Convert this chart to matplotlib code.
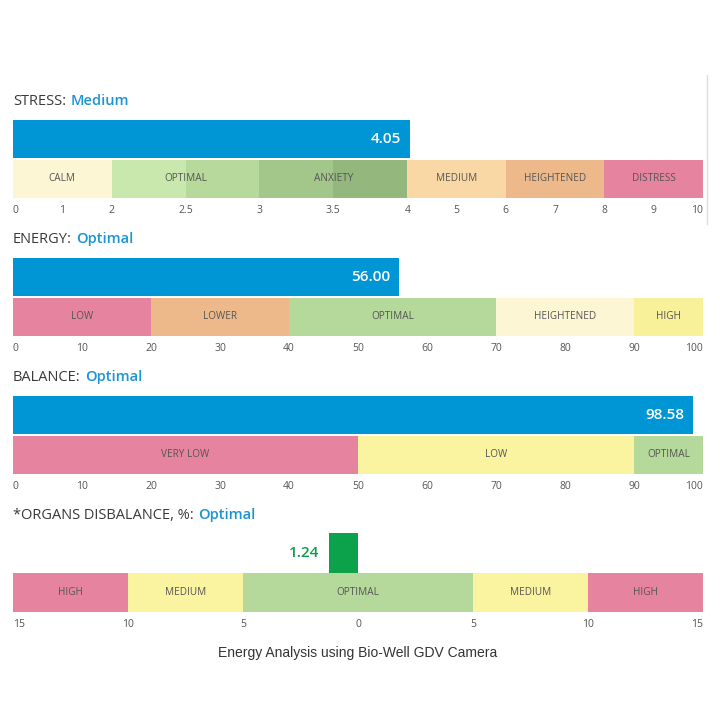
import numpy as np
import matplotlib.pyplot as plt
from matplotlib.transforms import offset_copy
from matplotlib.lines import Line2D

plt.rcParams['font.family'] = ['Open Sans', 'DejaVu Sans']

# ---- data ----
stress_value = 4.05
stress_status = "Medium"
stress_edges = [0, 2, 2.5, 3, 3.5, 4, 6, 8, 10]
stress_names = ["CALM", "OPTIMAL", "ANXIETY", "MEDIUM", "HEIGHTENED", "DISTRESS"]
stress_spans = [(0, 2), (2, 3), (3, 4), (4, 6), (6, 8), (8, 10)]
stress_ticks = [0, 1, 2, 2.5, 3, 3.5, 4, 5, 6, 7, 8, 9, 10]
stress_ticklabels = ["0", "1", "2", "2.5", "3", "3.5", "4", "5", "6", "7", "8", "9", "10"]

energy_value = 56.00
energy_status = "Optimal"
energy_edges = [0, 20, 40, 70, 90, 100]
energy_names = ["LOW", "LOWER", "OPTIMAL", "HEIGHTENED", "HIGH"]
energy_ticks = [0, 10, 20, 30, 40, 50, 60, 70, 80, 90, 100]

balance_value = 98.58
balance_status = "Optimal"
balance_edges = [0, 50, 90, 100]
balance_names = ["VERY LOW", "LOW", "OPTIMAL"]
balance_ticks = [0, 10, 20, 30, 40, 50, 60, 70, 80, 90, 100]

organs_value = 1.24
organs_status = "Optimal"
organs_edges = [-15, -10, -5, 5, 10, 15]
organs_names = ["HIGH", "MEDIUM", "OPTIMAL", "MEDIUM", "HIGH"]
organs_ticks = [-15, -10, -5, 0, 5, 10, 15]
organs_ticklabels = ["15", "10", "5", "0", "5", "10", "15"]

# ---- styles ----
BLUE = "#0096d6"
TITLE_BLUE = "#1b95d3"
PINK = "#e6849f"
ORANGE = "#eeb98a"
PEACH = "#fad8a5"
CREAM = "#fcf6d4"
YELLOW = "#faf3a0"
GREEN = "#b5d99a"
stress_colors = [CREAM, "#c9e8ad", "#b7d99b", "#a3c78b", "#93b77d", PEACH, ORANGE, PINK]
energy_colors = [PINK, ORANGE, GREEN, CREAM, "#f9f09a"]
balance_colors = [PINK, YELLOW, GREEN]
organs_colors = [PINK, YELLOW, GREEN, YELLOW, PINK]

W = H = 720
fig = plt.figure(figsize=(7.2, 7.2), dpi=100)


def px_axes(x0, y0, x1, y1):
    return fig.add_axes([x0 / W, 1 - y1 / H, (x1 - x0) / W, (y1 - y0) / H])


def title(y, label, status):
    t = fig.text(13 / W, 1 - y / H, label, fontsize=10.5, color="#3a3a3a", va="baseline")
    r = fig.canvas.get_renderer()
    bb = t.get_window_extent(r)
    fig.text(bb.x1 / W + 4 / W, 1 - y / H, status, fontsize=10.5, color=TITLE_BLUE,
             va="baseline", fontweight="semibold")


def track(ax, edges, colors, names, spans, ticks, ticklabels):
    for i in range(len(edges) - 1):
        ax.barh(0.5, edges[i + 1] - edges[i], left=edges[i], height=1.0,
                color=colors[i], edgecolor="none")
    for name, (a, b) in zip(names, spans):
        mid = (a + b) / 2
        ax.text(mid, 0.5, name, ha="center", va="center", fontsize=7.2, color="#555555")
    ax.set_ylim(0, 2.03)
    ax.set_xlim(edges[0], edges[-1])
    ax.set_xticks(ticks)
    ax.set_xticklabels(ticklabels)
    ax.tick_params(axis="x", length=0, pad=5, labelsize=7.5, labelcolor="#555555")
    ax.set_yticks([])
    for s in ax.spines.values():
        s.set_visible(False)
    labs = ax.get_xticklabels()
    labs[0].set_ha("left")
    labs[-1].set_ha("right")


def value_bar(ax, value, text):
    ax.barh(1.53, value, left=0, height=1.0, color=BLUE, edgecolor="none")
    tr = offset_copy(ax.transData, fig=fig, x=-9, y=0, units="dots")
    ax.text(value, 1.53, text, transform=tr, ha="right", va="center",
            fontsize=11, color="white", fontweight="semibold")


# STRESS
title(105, "STRESS:", stress_status)
ax1 = px_axes(13, 120, 703, 198)
fwd = lambda x: np.interp(x, [0, 2, 4, 10], [0, 2, 8, 14])
inv = lambda x: np.interp(x, [0, 2, 8, 14], [0, 2, 4, 10])
ax1.set_xscale("function", functions=(fwd, inv))
track(ax1, stress_edges, stress_colors, stress_names, stress_spans,
      stress_ticks, stress_ticklabels)
value_bar(ax1, stress_value, f"{stress_value:.2f}")

# ENERGY
title(243, "ENERGY:", energy_status)
ax2 = px_axes(13, 258, 703, 336)
track(ax2, energy_edges, energy_colors, energy_names,
      list(zip(energy_edges[:-1], energy_edges[1:])), energy_ticks,
      [str(t) for t in energy_ticks])
value_bar(ax2, energy_value, f"{energy_value:.2f}")

# BALANCE
title(381, "BALANCE:", balance_status)
ax3 = px_axes(13, 396, 703, 474)
track(ax3, balance_edges, balance_colors, balance_names,
      list(zip(balance_edges[:-1], balance_edges[1:])), balance_ticks,
      [str(t) for t in balance_ticks])
value_bar(ax3, balance_value, f"{balance_value:.2f}")

# ORGANS DISBALANCE
title(519, "*ORGANS DISBALANCE, %:", organs_status)
ax4 = px_axes(13, 533, 703, 612)
track(ax4, organs_edges, organs_colors, organs_names,
      list(zip(organs_edges[:-1], organs_edges[1:])), organs_ticks, organs_ticklabels)
ax4.set_ylim(0, 2.0)
ax4.barh(1.5, -organs_value, left=0, height=1.0, color="#0ca24b", edgecolor="none")
tr = offset_copy(ax4.transData, fig=fig, x=-10, y=0, units="dots")
ax4.text(-organs_value, 1.5, f"{organs_value:.2f}", transform=tr, ha="right",
         va="center", fontsize=11, color="#129b4b", fontweight="semibold")

fig.text(358 / W, 1 - 653 / H, "Energy Analysis using Bio-Well GDV Camera",
         ha="center", va="center", fontsize=10, color="#333333",
         family=["Liberation Sans", "DejaVu Sans"])

# card border on the right edge of the screenshot
fig.add_artist(Line2D([707 / W, 707 / W], [1 - 75 / H, 1 - 224 / H],
                      color="#dddddd", lw=1))

fig.savefig("out.png", dpi=100)
